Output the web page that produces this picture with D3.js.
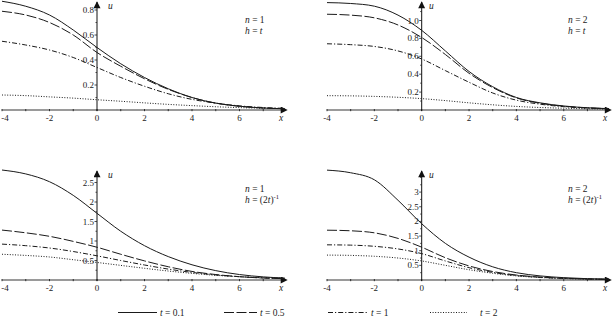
<!DOCTYPE html>
<html><head><meta charset="utf-8">
<script src="https://cdn.jsdelivr.net/npm/d3@7"></script>
<style>body{margin:0;background:#fff}svg{display:block}text{font-family:"Liberation Serif","DejaVu Serif",serif;fill:#222}</style>
</head><body>
<script>
// x sample positions
const xs = [-4, -3, -2, -1, 0, 1, 2, 3, 4, 5, 6, 7, 7.9];
const tLabels = ["t = 0.1", "t = 0.5", "t = 1", "t = 2"];
const xTicks = [-4, -2, 0, 2, 4, 6];
// panel 1: n=1, h=t
const p1_t01 = [0.87, 0.83, 0.76, 0.64, 0.50, 0.37, 0.26, 0.17, 0.10, 0.055, 0.03, 0.016, 0.01];
const p1_t05 = [0.79, 0.76, 0.70, 0.60, 0.46, 0.35, 0.25, 0.165, 0.10, 0.055, 0.03, 0.016, 0.01];
const p1_t1  = [0.55, 0.52, 0.48, 0.42, 0.34, 0.26, 0.19, 0.13, 0.085, 0.055, 0.033, 0.02, 0.013];
const p1_t2  = [0.12, 0.115, 0.105, 0.095, 0.082, 0.07, 0.057, 0.045, 0.035, 0.026, 0.019, 0.014, 0.011];
const p1_yTicks = [0.2, 0.4, 0.6, 0.8];
// panel 2: n=2, h=t
const p2_t01 = [1.20, 1.19, 1.16, 1.06, 0.89, 0.66, 0.43, 0.26, 0.14, 0.08, 0.045, 0.025, 0.015];
const p2_t05 = [1.07, 1.06, 1.03, 0.95, 0.81, 0.62, 0.41, 0.25, 0.135, 0.075, 0.042, 0.024, 0.015];
const p2_t1  = [0.74, 0.73, 0.71, 0.66, 0.57, 0.44, 0.31, 0.19, 0.11, 0.065, 0.037, 0.022, 0.014];
const p2_t2  = [0.16, 0.158, 0.152, 0.142, 0.127, 0.105, 0.08, 0.058, 0.04, 0.028, 0.02, 0.014, 0.01];
const p2_yTicks = [0.2, 0.4, 0.6, 0.8, 1.0];
// panel 3: n=1, h=(2t)^-1
const p3_t01 = [2.82, 2.72, 2.52, 2.17, 1.71, 1.25, 0.88, 0.60, 0.39, 0.24, 0.14, 0.08, 0.05];
const p3_t05 = [1.28, 1.21, 1.12, 0.99, 0.84, 0.66, 0.49, 0.34, 0.22, 0.14, 0.085, 0.05, 0.035];
const p3_t1  = [0.92, 0.88, 0.82, 0.73, 0.62, 0.50, 0.385, 0.28, 0.195, 0.13, 0.085, 0.055, 0.04];
const p3_t2  = [0.66, 0.63, 0.59, 0.52, 0.45, 0.375, 0.30, 0.23, 0.17, 0.12, 0.085, 0.06, 0.045];
const p3_yTicks = [0.5, 1, 1.5, 2, 2.5];
// panel 4: n=2, h=(2t)^-1
const p4_t01 = [3.75, 3.66, 3.42, 2.72, 1.92, 1.25, 0.78, 0.45, 0.25, 0.14, 0.08, 0.045, 0.03];
const p4_t05 = [1.70, 1.68, 1.61, 1.42, 1.12, 0.76, 0.48, 0.29, 0.17, 0.10, 0.06, 0.035, 0.022];
const p4_t1  = [1.20, 1.19, 1.15, 1.06, 0.90, 0.65, 0.42, 0.26, 0.15, 0.09, 0.055, 0.033, 0.02];
const p4_t2  = [0.85, 0.84, 0.81, 0.75, 0.65, 0.50, 0.35, 0.23, 0.14, 0.085, 0.05, 0.03, 0.02];
const p4_yTicks = [0.5, 1, 1.5, 2, 2.5, 3];

const dashes = [null, "10,2.5", "5,2,1.2,2", "1,1.6"];

const panels = [
  {series:[p1_t01,p1_t05,p1_t1,p1_t2], yTicks:p1_yTicks, fmt:d3.format(".1f"), x0:2, x1:97, y0:110, ppu:125, top:2, n:"1", h:"t", ax:245, ay:23, ux:104},
  {series:[p2_t01,p2_t05,p2_t1,p2_t2], yTicks:p2_yTicks, fmt:d3.format(".1f"), x0:327, x1:421.7, y0:110, ppu:89.5, top:2, n:"2", h:"t", ax:568, ay:23, ux:425},
  {series:[p3_t01,p3_t05,p3_t1,p3_t2], yTicks:p3_yTicks, fmt:d=>String(d), x0:2, x1:97, y0:280, ppu:39, top:171, n:"1", h:"2t", ax:245, ay:192, ux:104},
  {series:[p4_t01,p4_t05,p4_t1,p4_t2], yTicks:p4_yTicks, fmt:d=>String(d), x0:327, x1:421.7, y0:280, ppu:29.3, top:171, n:"2", h:"2t", ax:568, ay:192, ux:425},
];

const svg = d3.select("body").append("svg").attr("width",612).attr("height",325);
const defs = svg.append("defs");
defs.append("marker").attr("id","arr").attr("viewBox","0 0 10 10").attr("refX",9).attr("refY",5)
  .attr("markerWidth",9).attr("markerHeight",7).attr("orient","auto").attr("markerUnits","userSpaceOnUse")
  .append("path").attr("d","M0,0L10,5L0,10z").attr("fill","#111");

panels.forEach(p=>{
  const x = d3.scaleLinear().domain([-4,0]).range([p.x0,p.x1]);
  const y = d3.scaleLinear().domain([0,1]).range([p.y0,p.y0-p.ppu]);
  const xEnd = x(8);
  const g = svg.append("g");
  // x axis (gray thick)
  g.append("line").attr("x1",p.x0).attr("x2",xEnd-2).attr("y1",p.y0).attr("y2",p.y0)
    .attr("stroke","#9a9a9a").attr("stroke-width",2.2);
  g.append("line").attr("x1",xEnd-8).attr("x2",xEnd).attr("y1",p.y0).attr("y2",p.y0)
    .attr("stroke","none").attr("marker-end","url(#arr)");
  d3.range(-4,8).forEach(v=>{
    g.append("line").attr("x1",x(v)).attr("x2",x(v)).attr("y1",p.y0-1).attr("y2",p.y0+1.2)
      .attr("stroke","#222").attr("stroke-width",0.9);
  });
  xTicks.forEach(v=>{
    const px = x(v);
    g.append("text").attr("x",Math.max(px,5)).attr("y",p.y0+11).attr("text-anchor","middle")
      .attr("font-size",9).text(v<0?"-"+(-v):String(v));
  });
  g.append("text").attr("x",xEnd-6).attr("y",p.y0+11).attr("text-anchor","middle")
    .attr("font-size",9.5).attr("font-style","italic").text("x");
  // y axis
  g.append("line").attr("x1",x(0)).attr("x2",x(0)).attr("y1",p.y0+1).attr("y2",p.top)
    .attr("stroke","#111").attr("stroke-width",1).attr("marker-end","url(#arr)");
  const step = p.yTicks[1]-p.yTicks[0];
  const ymax = y.invert(p.top+6);
  d3.range(step/2, ymax, step/2).forEach(v=>{
    const major = p.yTicks.some(t=>Math.abs(t-v)<1e-6);
    g.append("line").attr("x1",x(0)-(major?2.5:1.5)).attr("x2",x(0)).attr("y1",y(v)).attr("y2",y(v))
      .attr("stroke","#222").attr("stroke-width",0.8);
  });
  p.yTicks.forEach(v=>{
    g.append("text").attr("x",x(0)-3).attr("y",y(v)+3).attr("text-anchor","end")
      .attr("font-size",9).text(p.fmt(v));
  });
  g.append("text").attr("x",p.ux+4).attr("y",p.top+7).attr("font-size",9.5).attr("font-style","italic").text("u");
  // annotation
  const a1 = g.append("text").attr("x",p.ax).attr("y",p.ay).attr("font-size",9.5);
  a1.append("tspan").attr("font-style","italic").text("n");
  a1.append("tspan").text(" = "+p.n);
  const a2 = g.append("text").attr("x",p.ax).attr("y",p.ay+11).attr("font-size",9.5);
  a2.append("tspan").attr("font-style","italic").text("h");
  if(p.h==="t"){
    a2.append("tspan").text(" = ");
    a2.append("tspan").attr("font-style","italic").text("t");
  } else {
    a2.append("tspan").text(" = (2");
    a2.append("tspan").attr("font-style","italic").text("t");
    a2.append("tspan").text(")");
    a2.append("tspan").attr("font-size",6.5).attr("dy",-4).text("-1");
  }
  // curves
  const line = d3.line().x(d=>x(d[0])).y(d=>y(d[1])).curve(d3.curveMonotoneX);
  p.series.forEach((s,i)=>{
    g.append("path").attr("d",line(xs.map((xv,j)=>[xv,s[j]])))
      .attr("fill","none").attr("stroke","#1a1a1a").attr("stroke-width",1)
      .attr("stroke-dasharray",dashes[i]);
  });
});

// legend
const legX = [118, 224, 328, 430];
const legW = [39, 33, 39, 37];
const legT = [160, 260, 371, 480];
tLabels.forEach((t,i)=>{
  svg.append("line").attr("x1",legX[i]).attr("x2",legX[i]+legW[i]).attr("y1",312.5).attr("y2",312.5)
    .attr("stroke","#1a1a1a").attr("stroke-width",1).attr("stroke-dasharray",dashes[i]);
  const tx = svg.append("text").attr("x",legT[i]).attr("y",315.5).attr("font-size",9.5);
  tx.append("tspan").attr("font-style","italic").text("t");
  tx.append("tspan").text(t.slice(1));
});
</script>
</body></html>
